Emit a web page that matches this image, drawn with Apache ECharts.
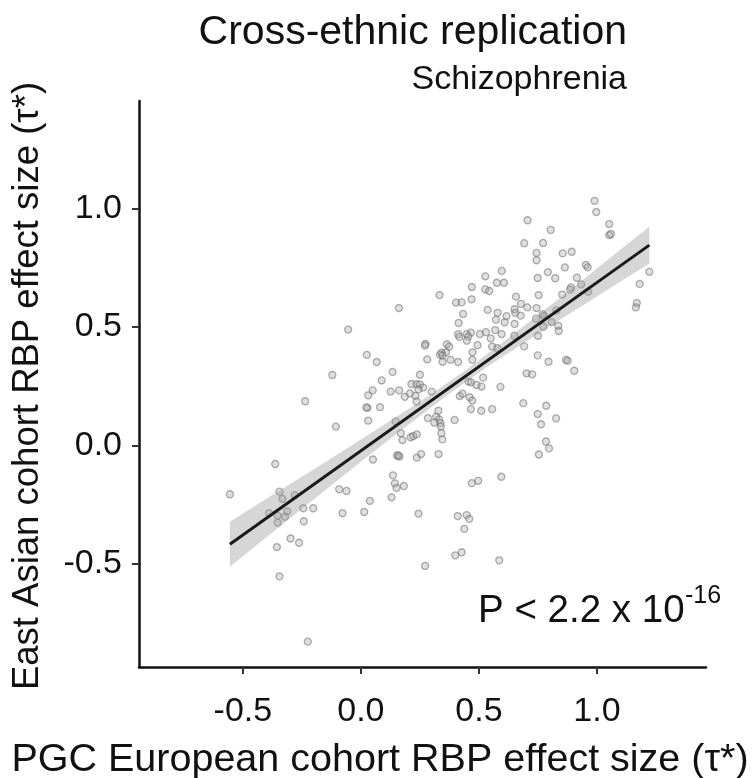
<!DOCTYPE html>
<html><head><meta charset="utf-8">
<script src="https://cdn.jsdelivr.net/npm/echarts@6/dist/echarts.min.js"></script>
<style>html,body{margin:0;padding:0;background:#fff}#c{width:752px;height:778px}</style>
</head><body><div id="c"></div>
<script>
// PGC European cohort RBP effect size (x) and East Asian cohort RBP effect size (y)
const europeanTau = [0.161,-0.054,0.025,-0.121,-0.236,0.031,0.050,0.028,0.023,0.031,-0.106,0.067,0.088,0.081,0.274,0.271,0.281,0.134,0.250,0.214,0.236,0.250,0.264,0.244,0.126,0.162,0.300,0.186,0.208,0.231,0.236,0.284,0.319,0.331,0.311,0.337,0.328,0.147,0.169,0.176,0.211,0.222,0.237,0.339,0.341,0.345,0.153,0.163,0.159,0.237,0.255,0.329,0.051,0.136,0.144,0.151,0.182,0.130,0.038,0.244,0.272,0.014,-0.078,-0.092,-0.061,-0.363,-0.555,-0.345,-0.332,-0.280,-0.389,-0.353,-0.312,-0.322,-0.352,-0.244,-0.202,-0.242,-0.298,-0.262,-0.356,-0.345,-0.225,0.706,0.692,0.744,0.744,0.749,0.753,0.597,0.527,0.576,0.606,0.470,0.527,0.544,0.333,0.469,0.657,0.678,0.705,0.744,0.403,0.427,0.537,0.651,0.654,0.433,0.579,0.617,0.677,0.572,0.609,0.651,0.414,0.742,0.569,0.596,0.650,0.530,0.504,0.466,0.448,0.455,0.449,0.412,0.417,0.550,0.494,0.556,0.578,0.692,0.750,0.364,0.374,0.361,0.342,0.335,0.346,0.473,0.380,0.346,0.412,0.472,0.749,0.518,0.702,0.726,0.456,0.467,0.490,0.511,0.591,0.419,0.431,0.461,0.472,0.688,0.749,0.466,0.510,0.556,0.397,0.990,0.997,1.052,1.052,1.059,0.804,0.772,0.855,0.893,0.864,0.953,0.961,0.792,0.823,0.915,0.933,0.890,0.886,0.853,0.963,1.222,1.181,1.169,1.165,0.770,0.775,0.828,0.773,0.808,0.836,0.838,0.795,0.869,0.876,0.904,0.785,0.827,0.763,0.784,0.797,0.754,0.470,0.497,0.595,0.410,0.448,0.459,0.438,0.400,0.427,0.586];
const eastAsianTau = [0.580,0.489,0.382,0.297,0.186,0.211,0.232,0.158,0.160,0.104,0.079,0.352,0.274,0.161,0.428,0.421,0.363,0.310,0.298,0.259,0.258,0.257,0.244,0.237,0.227,0.232,0.227,0.205,0.219,0.209,0.185,0.115,0.121,0.109,0.096,0.094,0.146,0.101,0.051,0.022,0.034,0.039,0.046,0.079,0.051,0.025,-0.043,-0.048,-0.043,-0.052,-0.037,-0.037,-0.060,-0.127,-0.161,-0.180,-0.172,-0.220,-0.235,-0.289,-0.510,-0.282,-0.287,-0.186,-0.193,-0.079,-0.207,-0.196,-0.226,-0.211,-0.287,-0.297,-0.279,-0.302,-0.327,-0.266,-0.266,-0.321,-0.394,-0.412,-0.430,-0.554,-0.830,0.951,0.854,0.813,0.782,0.707,0.635,0.737,0.714,0.687,0.687,0.669,0.659,0.652,0.635,0.617,0.628,0.598,0.583,0.580,0.603,0.604,0.572,0.575,0.560,0.555,0.560,0.546,0.548,0.531,0.520,0.513,0.517,0.535,0.487,0.470,0.463,0.478,0.470,0.476,0.470,0.459,0.442,0.469,0.458,0.452,0.423,0.417,0.410,0.418,0.463,0.427,0.417,0.393,0.391,0.383,0.379,0.393,0.361,0.353,0.352,0.361,0.380,0.286,0.304,0.300,0.269,0.266,0.255,0.248,0.247,0.208,0.218,0.203,0.189,0.178,0.132,0.153,0.146,0.153,0.107,1.033,0.986,0.935,0.888,0.893,0.910,0.855,0.811,0.818,0.752,0.762,0.752,0.732,0.706,0.708,0.680,0.667,0.658,0.637,0.649,0.733,0.682,0.601,0.583,0.554,0.546,0.570,0.501,0.521,0.505,0.483,0.353,0.361,0.357,0.315,0.167,0.114,0.089,0.016,-0.013,-0.039,-0.160,-0.150,-0.133,-0.299,-0.295,-0.311,-0.353,-0.465,-0.452,-0.486];

// regression fit and its confidence band
const fitX = [-0.555, 1.222];
const fitY = [-0.418, 0.846];
const bandX    = [-0.555, -0.45, -0.3, -0.15, 0.0, 0.1, 0.2, 0.3, 0.43, 0.55, 0.7, 0.85, 1.0, 1.1, 1.222];
const bandLow  = [-0.513, -0.429, -0.308, -0.189, -0.070, 0.009, 0.086, 0.162, 0.258, 0.341, 0.439, 0.535, 0.629, 0.692, 0.768];
const bandHigh = [-0.323, -0.257, -0.164, -0.071, 0.024, 0.088, 0.152, 0.218, 0.308, 0.396, 0.511, 0.628, 0.747, 0.827, 0.924];

const xTicks = [-0.5, 0.0, 0.5, 1.0];
const yTicks = [-0.5, 0.0, 0.5, 1.0];

const FONT = "'Liberation Sans', Arial, Helvetica, sans-serif";
const chart = echarts.init(document.getElementById('c'), null, {renderer: 'canvas'});

const scatterData = europeanTau.map((x, i) => [x, eastAsianTau[i]]);
const fitData = fitX.map((x, i) => [x, fitY[i]]);

const option = {
  animation: false,
  backgroundColor: '#fff',
  grid: {left: 139, right: 46, top: 101, bottom: 111, containLabel: false},
  xAxis: {
    type: 'value', min: -0.94, max: 1.462,
    axisLine: {show: true, onZero: false, lineStyle: {color: '#111', width: 2.5}},
    axisTick: {show: true, customValues: xTicks, length: 7, lineStyle: {color: '#333', width: 2}},
    axisLabel: {customValues: xTicks, formatter: v => v.toFixed(1), fontSize: 34, color: '#111', margin: 28, fontFamily: FONT},
    splitLine: {show: false}
  },
  yAxis: {
    type: 'value', min: -0.937, max: 1.455,
    axisLine: {show: true, onZero: false, lineStyle: {color: '#111', width: 2.5}},
    axisTick: {show: true, customValues: yTicks, length: 7, lineStyle: {color: '#333', width: 2}},
    axisLabel: {customValues: yTicks, formatter: v => v.toFixed(1), fontSize: 34, color: '#111', margin: 17, fontFamily: FONT},
    splitLine: {show: false}
  },
  series: [
    {
      type: 'scatter', z: 2, data: scatterData, symbol: 'circle', symbolSize: 7,
      itemStyle: {color: 'rgba(170,170,170,0.45)', borderColor: 'rgba(105,105,105,0.65)', borderWidth: 1.3}
    },
    {
      type: 'custom', z: 3, data: [0], silent: true,
      renderItem: function (params, api) {
        const pts = [];
        for (let i = 0; i < bandX.length; i++) pts.push(api.coord([bandX[i], bandHigh[i]]));
        for (let i = bandX.length - 1; i >= 0; i--) pts.push(api.coord([bandX[i], bandLow[i]]));
        return {type: 'polygon', shape: {points: pts}, style: {fill: 'rgba(153,153,153,0.4)', stroke: null}};
      }
    },
    {
      type: 'line', z: 4, data: fitData, symbol: 'none',
      lineStyle: {color: '#1a1a1a', width: 3}
    }
  ],
  graphic: [
    {type: 'text', right: 752 - 627, top: 12, style: {text: 'Cross-ethnic replication', fontSize: 41, fontFamily: FONT, fill: '#111'}},
    {type: 'text', right: 752 - 627, top: 63, style: {text: 'Schizophrenia', fontSize: 34, fontFamily: FONT, fill: '#111'}},
    {type: 'text', x: 478, y: 611, style: {text: 'P < 2.2 x 10', fontSize: 38.5, fontFamily: FONT, fill: '#111', align: 'left', verticalAlign: 'middle'}},
    {type: 'text', x: 685, y: 596, style: {text: '-16', fontSize: 25, fontFamily: FONT, fill: '#111', align: 'left', verticalAlign: 'middle'}},
    {type: 'text', x: 380, y: 760, style: {text: 'PGC European cohort RBP effect size (τ*)', fontSize: 39.5, fontFamily: FONT, fill: '#111', align: 'center', verticalAlign: 'middle'}},
    {type: 'text', x: 28, y: 386, rotation: Math.PI / 2, style: {text: 'East Asian cohort RBP effect size (τ*)', fontSize: 36.5, fontFamily: FONT, fill: '#111', align: 'center', verticalAlign: 'middle'}}
  ]
};
chart.setOption(option);
</script>
</body></html>
